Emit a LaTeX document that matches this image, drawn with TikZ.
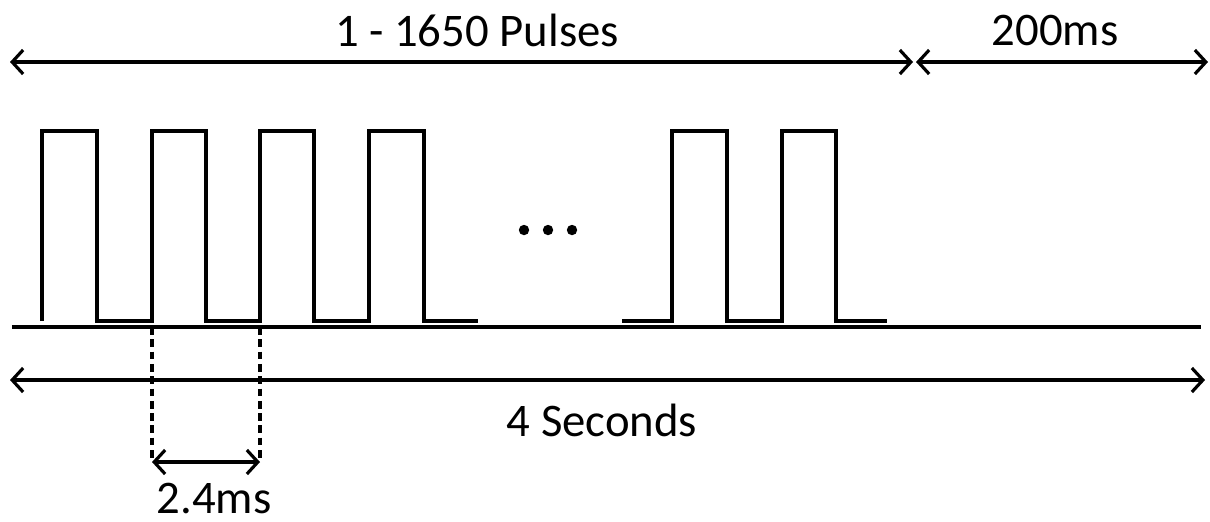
\documentclass[tikz,border=0pt]{standalone}
\usepackage{fontspec}
\setmainfont{Carlito}
\usetikzlibrary{arrows.meta,positioning}

\begin{document}
\begin{tikzpicture}[
    x=1cm, y=-1cm,
    span/.style={{Straight Barb[length=1.1mm,width=2.4mm]}-{Straight Barb[length=1.1mm,width=2.4mm]}, line width=0.9pt},
    guide/.style={dash pattern=on 2.2pt off 1.3pt, line width=0.9pt},
    signal/.style={line width=0.9pt, line join=miter},
    axisline/.style={line width=0.9pt},
    lbl/.style={font=\fontsize{13.3}{16}\selectfont, inner sep=0pt}
]
\useasboundingbox (0,0) rectangle (12.10,5.21);

% === Top spans ===
\coordinate (pulse-l) at (0.10,0.62);
\coordinate (pulse-r) at (9.13,0.62);
\coordinate (rest-l) at (9.16,0.62);
\coordinate (rest-r) at (12.08,0.62);
\draw[span] (pulse-l) -- (pulse-r);
\draw[span] (rest-l) -- (rest-r);
\node[lbl] (pulse-label) at (4.77,0.30) {1 - 1650 Pulses};
\node[lbl] (rest-label) at (10.55,0.30) {200ms};

% === Pulse train ===
\draw[signal] (0.42,3.21) -- (0.42,1.31) -- (0.97,1.31) -- (0.97,3.21)
    -- (1.52,3.21) -- (1.52,1.31) -- (2.06,1.31) -- (2.06,3.21)
    -- (2.60,3.21) -- (2.60,1.31) -- (3.14,1.31) -- (3.14,3.21)
    -- (3.69,3.21) -- (3.69,1.31) -- (4.24,1.31) -- (4.24,3.21) -- (4.78,3.21);
\draw[signal] (6.22,3.21) -- (6.72,3.21) -- (6.72,1.31) -- (7.27,1.31) -- (7.27,3.21)
    -- (7.82,3.21) -- (7.82,1.31) -- (8.36,1.31) -- (8.36,3.21) -- (8.87,3.21);
\foreach \x in {5.24,5.48,5.72}
    \fill (\x,2.30) circle (0.052);

% baseline
\coordinate (base-l) at (0.12,3.27);
\coordinate (base-r) at (12.01,3.27);
\draw[axisline] (base-l) -- (base-r);

% === Total duration ===
\coordinate (total-l) at (0.10,3.80);
\coordinate (total-r) at (12.05,3.80);
\draw[span] (total-l) -- (total-r);
\node[lbl] (total-label) at (6.02,4.20) {4 Seconds};

% === Period ===
\coordinate (rise-a) at (1.52,3.27);
\coordinate (rise-b) at (2.60,3.27);
\coordinate (per-l) at (1.52,4.62);
\coordinate (per-r) at (2.60,4.62);
\draw[guide] (rise-a) -- (per-l);
\draw[guide] (rise-b) -- (per-r);
\draw[span] (per-l) -- (per-r);
\node[lbl] (per-label) at (2.14,4.98) {2.4ms};

\end{tikzpicture}
\end{document}
